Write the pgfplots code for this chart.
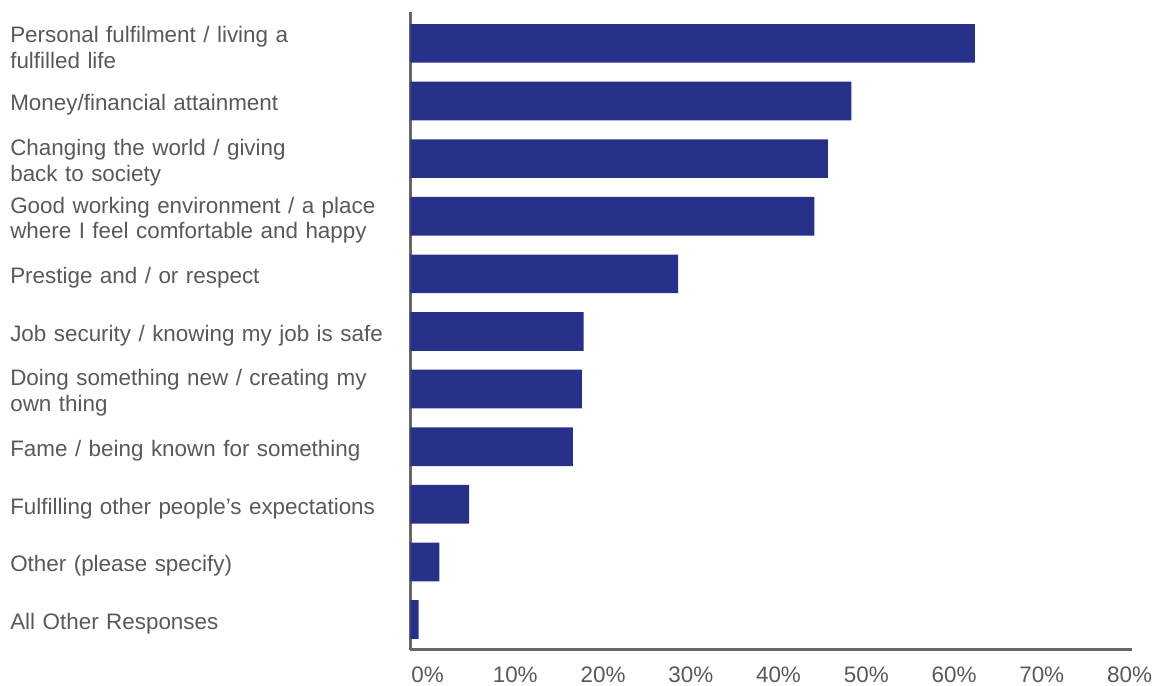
\documentclass[border=0pt]{standalone}
\usepackage{fontspec}
\setmainfont{Liberation Sans}
\usepackage{pgfplots}
\pgfplotsset{compat=1.18}
\definecolor{barblue}{HTML}{27318A}
\definecolor{txtgray}{HTML}{595959}
\definecolor{axgray}{HTML}{666666}
\begin{document}
\begin{tikzpicture}
\begin{axis}[
  at={(0,0)}, anchor=south west,
  scale only axis, width=721.2bp, height=637.5bp,
  xbar, bar width=38.7bp,
  xmin=0, xmax=80,
  ymin=-0.52, ymax=10.545,
  axis x line=bottom, axis y line=left,
  axis line style={axgray, line width=2.3bp, -},
  major tick length=0pt,
  xtick={1.89,11.62,21.36,31.09,40.82,50.56,60.29,70.02,79.76},
  xticklabels={0\%,10\%,20\%,30\%,40\%,50\%,60\%,70\%,80\%},
  ytick={0,1,2,3,4,5,6,7,8,9,10},
  yticklabels={
    {All Other Responses},
    {Other (please specify)},
    {Fulfilling other people’s expectations},
    {Fame / being known for something},
    {Doing something new / creating my\\own thing},
    {Job security / knowing my job is safe},
    {Prestige and / or respect},
    {Good working environment / a place\\where I feel comfortable and happy},
    {Changing the world / giving\\back to society},
    {Money/financial attainment},
    {Personal fulfilment / living a\\fulfilled life}},
  tick label style={font=\fontsize{22.5}{26}\selectfont, text=txtgray},
  xticklabel style={anchor=north, inner sep=0pt, yshift=-17bp},
  yticklabel style={anchor=east, align=left, text width=390bp, inner sep=0pt, xshift=-10bp, yshift=-4bp},
]
\addplot[fill=barblue, draw=none] coordinates {
  (0.9,0) (3.2,1) (6.5,2) (18.0,3) (19.0,4) (19.2,5)
  (29.7,6) (44.8,7) (46.3,8) (48.9,9) (62.6,10)};
\end{axis}
\pgfresetboundingbox
\path (-410.5bp,-36.5bp) rectangle (746.5bp,649.5bp);
\end{tikzpicture}
\end{document}
